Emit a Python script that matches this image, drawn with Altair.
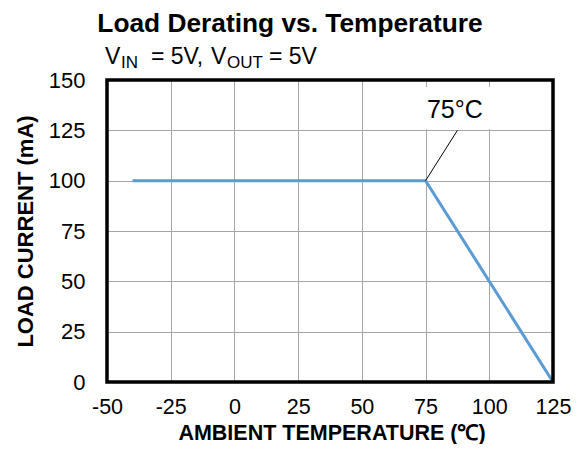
import altair as alt
import pandas as pd

# Data
temperature = [-40, 75, 125]
load_current = [100, 100, 0]

x_ticks = [-50, -25, 0, 25, 50, 75, 100, 125]
y_ticks = [0, 25, 50, 75, 100, 125, 150]

# annotation (data coordinates)
knee_point = [75, 100]
label_anchor = [87.5, 125]
label_box_x = [72, 101.5]
label_box_y = [125.5, 146.5]
label_pos = [86.5, 135]
label_text = "75°C"

W, H = 446, 302
FONT = "Liberation Sans"

df = pd.DataFrame({"temp": temperature, "current": load_current})

xscale = alt.Scale(domain=[x_ticks[0], x_ticks[-1]], nice=False)
yscale = alt.Scale(domain=[y_ticks[0], y_ticks[-1]], nice=False)

xaxis = alt.Axis(values=x_ticks, title=None, grid=True,
                 labelExpr="'' + datum.value",
                 gridColor="#a6a6a6", gridWidth=1, ticks=False, tickSize=0, domain=False,
                 labelFont=FONT, labelFontSize=21.5, labelColor="black", labelPadding=14,
                 labelFlush=False)
yaxis = alt.Axis(values=y_ticks, title="LOAD CURRENT (mA)", grid=True,
                 labelExpr="'' + datum.value",
                 gridColor="#a6a6a6", gridWidth=1, ticks=False, tickSize=0, domain=False,
                 labelFont=FONT, labelFontSize=22, labelColor="black", labelPadding=22,
                 labelFlush=False, titleFont=FONT, titleFontSize=22, titleFontWeight="bold",
                 titleColor="black", titleX=-82, titleY=H / 2, titleBaseline="middle",
                 titleAngle=-90, titleAnchor="middle")

line = alt.Chart(df).mark_line(color="#5b9bd5", strokeWidth=3).encode(
    x=alt.X("temp:Q", scale=xscale, axis=xaxis),
    y=alt.Y("current:Q", scale=yscale, axis=yaxis),
)

one = alt.Data(values=[{}])

box = alt.Chart(one).mark_rect(fill="white", stroke=None).encode(
    x=alt.datum(label_box_x[0], scale=xscale),
    x2=alt.datum(label_box_x[1]),
    y=alt.datum(label_box_y[0], scale=yscale),
    y2=alt.datum(label_box_y[1]),
)

leader = alt.Chart(one).mark_rule(color="black", strokeWidth=1).encode(
    x=alt.datum(knee_point[0], scale=xscale),
    y=alt.datum(knee_point[1], scale=yscale),
    x2=alt.datum(label_anchor[0]),
    y2=alt.datum(label_anchor[1]),
)

label = alt.Chart(one).mark_text(text=label_text, font=FONT, fontSize=25,
                                 color="black", align="center", baseline="middle").encode(
    x=alt.datum(label_pos[0], scale=xscale),
    y=alt.datum(label_pos[1], scale=yscale),
)

frame = alt.Chart(one).mark_rect(filled=False, stroke="black", strokeWidth=3.5).encode(
    x=alt.datum(x_ticks[0], scale=xscale),
    x2=alt.datum(x_ticks[-1]),
    y=alt.datum(y_ticks[0], scale=yscale),
    y2=alt.datum(y_ticks[-1]),
)

def txt(s, x, y, size, weight="normal", align="left"):
    return alt.Chart(one).mark_text(text=s, font=FONT, fontSize=size, fontWeight=weight,
                                    color="black", align=align, baseline="alphabetic").encode(
        x=alt.value(x), y=alt.value(y))

title = txt("Load Derating vs. Temperature", 183, -48, 26.3, "bold", "center")
sub_parts = [
    txt("V", -2, -16, 23),
    txt("IN", 14, -12, 17),
    txt("= 5V,", 44, -16, 23),
    txt("V", 104, -16, 23),
    txt("OUT", 120, -12, 17),
    txt("= 5V", 162, -16, 23),
]
x_title = txt("AMBIENT TEMPERATURE (℃)", W / 2 + 2, H + 58, 21.5, "bold", "center")

chart = alt.layer(line, box, leader, label, frame, title, x_title, *sub_parts).properties(
    width=W, height=H,
    padding={"left": 99, "top": 72, "right": 19, "bottom": 62},
    autosize=alt.AutoSizeParams(type="none"),
).configure_view(stroke=None).configure(background="white")

chart.save("out.html", embed_options={"renderer": "svg", "actions": False})
